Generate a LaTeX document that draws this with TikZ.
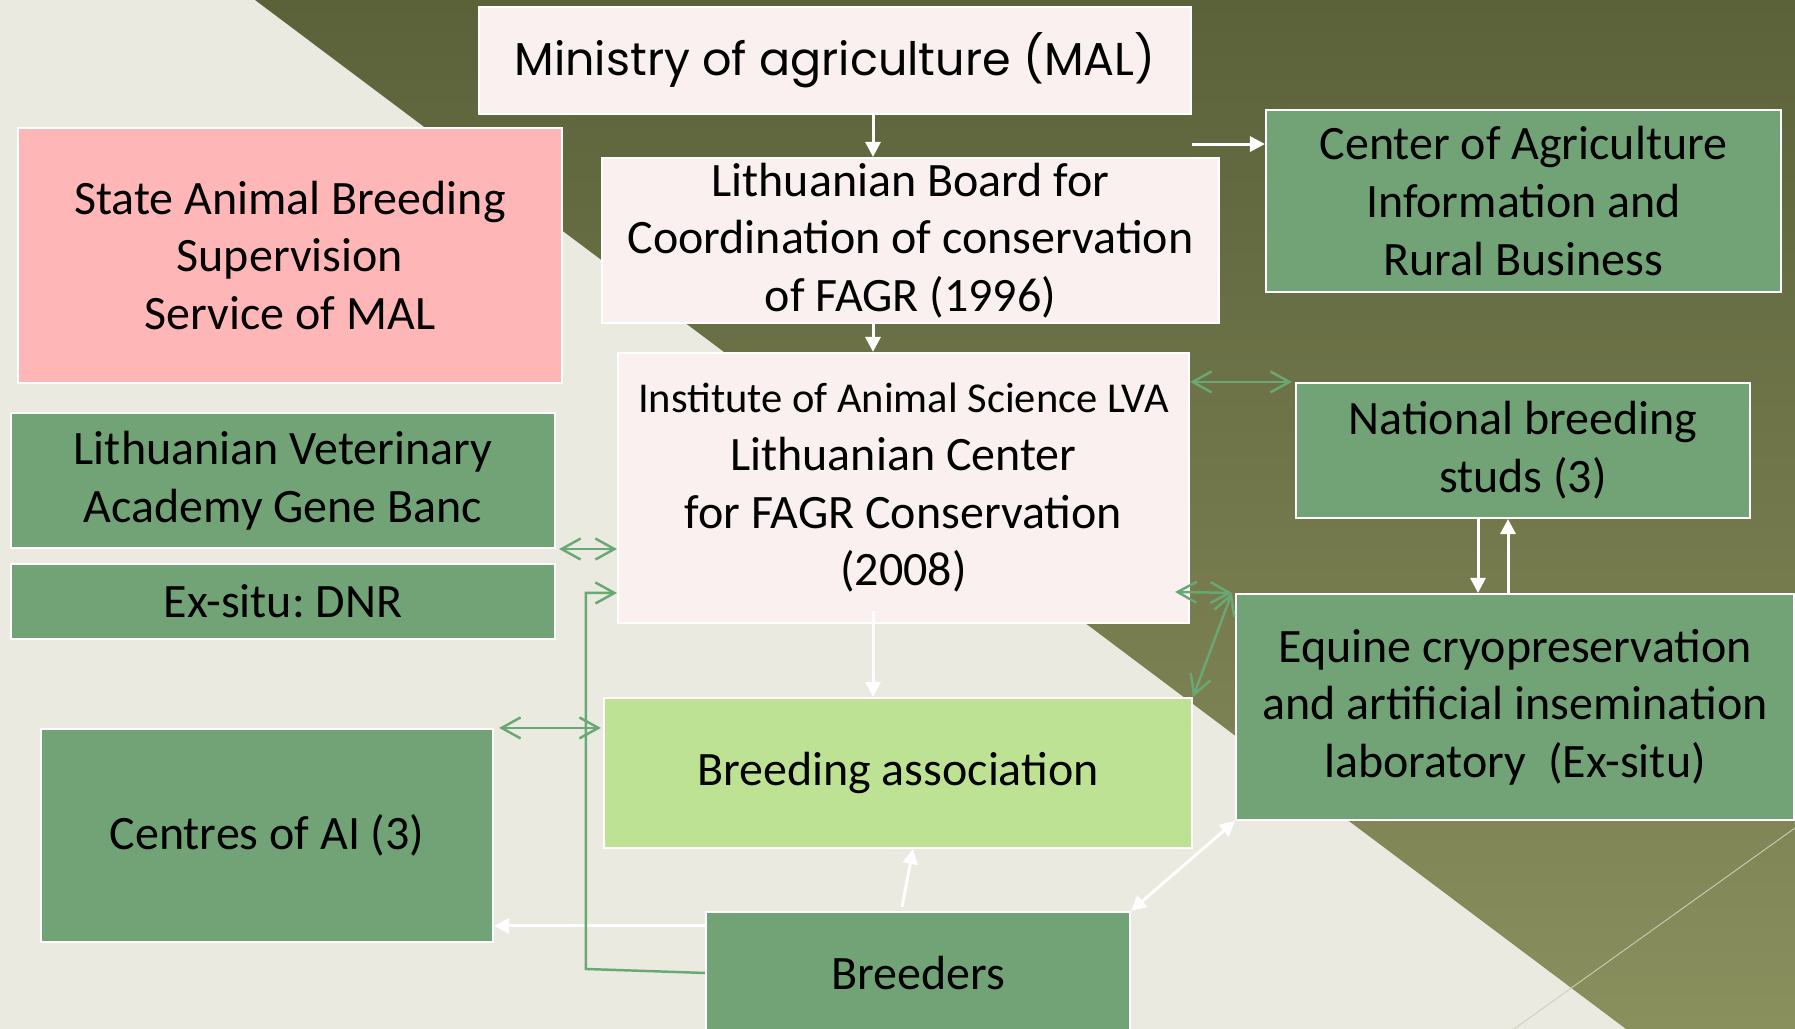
\documentclass[tikz,border=0pt]{standalone}
\usepackage{fontspec}
\setmainfont{Carlito}
\newfontfamily\gothicfont{Poppins}
\usetikzlibrary{
	calc,
	arrows.meta}
\frenchspacing

\definecolor{bglight}{HTML}{EAEAE0}
\definecolor{olivetop}{HTML}{5B6139}
\definecolor{olivemid}{HTML}{6A7043}
\definecolor{olivebot}{HTML}{8A8F5E}
\definecolor{palepink}{HTML}{F9F0EF}
\definecolor{rosebox}{HTML}{FFB6B6}
\definecolor{greenbox}{HTML}{71A377}
\definecolor{limebox}{HTML}{BEE293}
\definecolor{greenline}{HTML}{69A874}

\begin{document}
\begin{tikzpicture}[
    box/.style={draw=white, line width=0.6pt, align=center, inner sep=0pt,
      font=\fontsize{13.65}{16.4}\selectfont},
    pale/.style={box, fill=palepink},
    gbox/.style={box, fill=greenbox},
    warr/.style={white, line width=0.85pt, -{Triangle[length=1.5mm,width=1.5mm]}},
    wboth/.style={white, line width=0.85pt,
      {Triangle[length=1.5mm,width=1.5mm]}-{Triangle[length=1.5mm,width=1.5mm]}},
    garr/.style={greenline, line width=0.7pt, -{Straight Barb[length=1.9mm,width=2.1mm]}},
    gboth/.style={greenline, line width=0.7pt,
      {Straight Barb[length=1.9mm,width=2.1mm]}-{Straight Barb[length=1.9mm,width=2.1mm]}}]
    \useasboundingbox (0,0) rectangle (17.95,10.29);
    \fill[bglight] (0,0) rectangle (17.95,10.29);
    \shade[top color=olivetop, middle color=olivemid, bottom color=olivebot]
      (2.55,10.29) -- (17.95,10.29) -- (17.95,0) -- (16.26,0) -- cycle;
    \draw[line width=0.25pt, color=bglight!70!olivebot] (17.95,2.01) -- (15.14,0);

    \node[pale, minimum width=7.12cm, minimum height=1.07cm,
      font=\gothicfont\fontsize{13.1}{16}\selectfont] (MAL) at (8.35,9.685)
      {Ministry of agriculture (MAL)};
    \node[pale, minimum width=6.17cm, minimum height=1.65cm] (LBC) at (9.105,7.885)
      {Lithuanian Board for\\Coordination of conservation\\of FAGR (1996)};
    \node[gbox, minimum width=5.15cm, minimum height=1.82cm] (CAR) at (15.235,8.28)
      {Center of Agriculture\\Information and\\Rural Business};
    \node[box, fill=rosebox, minimum width=5.44cm, minimum height=2.55cm] (SAB) at (2.90,7.735)
      {State Animal Breeding\\Supervision\\Service of MAL};
    \node[pale, minimum width=5.71cm, minimum height=2.70cm] (IAS) at (9.035,5.41)
      {{\fontsize{12.1}{16.4}\selectfont Institute of Animal Science LVA}\\Lithuanian Center\\for FAGR Conservation\\(2008)};
    \node[gbox, minimum width=4.54cm, minimum height=1.35cm] (NBS) at (15.23,5.785)
      {National breeding\\studs (3)};
    \node[gbox, minimum width=5.44cm, minimum height=1.35cm] (LVA) at (2.83,5.485)
      {Lithuanian Veterinary\\Academy Gene Banc};
    \node[gbox, minimum width=5.44cm, minimum height=0.75cm] (EXS) at (2.83,4.275)
      {Ex-situ: DNR};
    \node[gbox, minimum width=5.58cm, minimum height=2.26cm] (ECL) at (15.15,3.22)
      {Equine cryopreservation\\and artificial insemination\\laboratory\ \ (Ex-situ)};
    \node[box, fill=limebox, minimum width=5.88cm, minimum height=1.50cm] (BA) at (8.98,2.56)
      {Breeding association};
    \node[gbox, minimum width=4.52cm, minimum height=2.13cm] (CAI) at (2.67,1.935)
      {Centres of AI (3)};
    \node[gbox, minimum width=4.24cm, minimum height=1.22cm] (BR) at (9.18,0.56)
      {Breeders};

    \draw[warr] ($(MAL.south)+(0.38,0)$) -- ($(MAL.south |- LBC.north)+(0.38,0)$);
    \draw[warr] ($(MAL.south |- LBC.south)+(0.38,0)$) -- ($(MAL.south |- IAS.north)+(0.38,0)$);
    \draw[warr] ($(MAL.south east)+(0,-0.29)$) -- ($(MAL.south east -| CAR.west)+(0,-0.29)$);
    \draw[warr] ($(MAL.south |- IAS.south)+(0.38,0.13)$) -- ($(MAL.south |- BA.north)+(0.38,0)$);
    \draw[warr] ($(NBS.south)+(-0.45,0)$) -- ($(NBS.south |- ECL.north)+(-0.45,0)$);
    \draw[warr] ($(NBS.south |- ECL.north)+(-0.15,0)$) -- ($(NBS.south)+(-0.15,0)$);
    \draw[warr] ($(BR.north)+(-0.16,0.04)$) -- ($(BA.south)+(0.15,0)$);
    \draw[wboth] (BR.north east) -- (ECL.south west);
    \draw[warr] ($(BR.north west)+(0,-0.15)$) -- ($(BR.north west -| CAI.east)+(0,-0.15)$);

    \draw[gboth] (IAS.east |- NBS.north west) -- ($(NBS.north west)+(-0.03,0)$);
    \draw[gboth] ($(LVA.south east)+(0.03,0)$) -- (LVA.south east -| IAS.west);
    \draw[garr] (BR.west) -- ++(-1.19,0.04) |- ($(IAS.west)+(0,-1.05)$);
    \draw[gboth] ($(CAI.north east)+(0.05,0)$) -- ($(CAI.north east -| BA.west)+(-0.02,0)$);
    \draw[gboth] ($(IAS.east |- ECL.north west)+(-0.15,0.01)$) -- ($(ECL.north west)+(-0.03,0)$);
    \draw[gboth] ($(ECL.north west)+(-0.03,0)$) -- (BA.north east);
\end{tikzpicture}
\end{document}
